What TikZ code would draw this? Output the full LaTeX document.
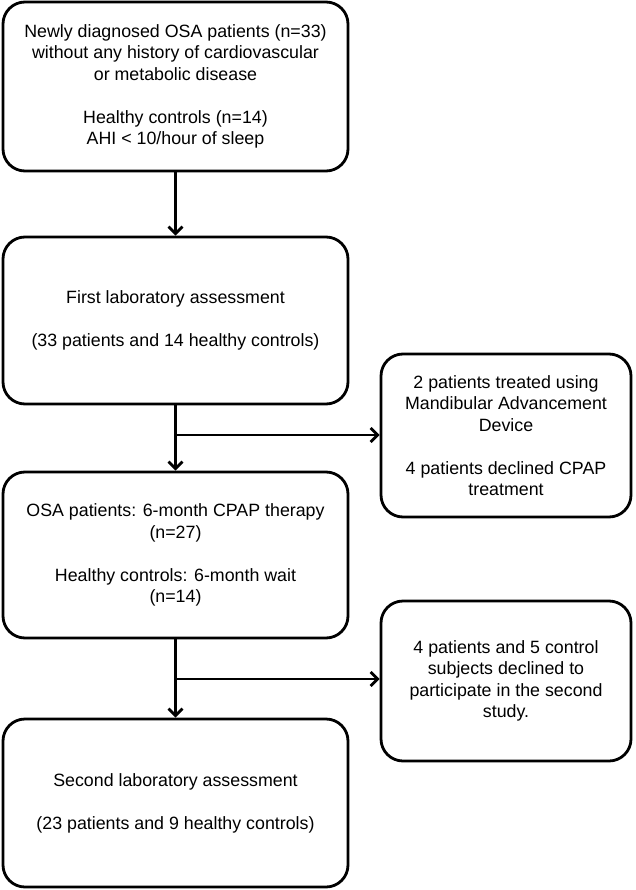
\documentclass[tikz,border=0pt]{standalone}
\usepackage{fontspec}
\setmainfont{Liberation Sans}
\usetikzlibrary{arrows.meta}
\tikzset{
  box/.style={draw, line width=2.8pt, rounded corners=22pt, align=center,
    inner sep=0pt, font=\fontsize{17.8}{21.5}\selectfont},
  mainbox/.style={box, minimum width=345pt},
  sidebox/.style={box, minimum width=250pt},
  flow/.style={line width=2.8pt, -{Straight Barb[length=7pt,width=14pt]}}
}
\begin{document}
\begin{tikzpicture}[x=1pt,y=-1pt]
      \useasboundingbox (0,0) rectangle (636,890);
      \node[mainbox, minimum height=169pt] (intake) at (175.5,86.5)
        {Newly diagnosed OSA patients (n=33)\\without any history of cardiovascular\\or metabolic disease\\[21.5pt]Healthy controls (n=14)\\AHI < 10/hour of sleep};
      \node[mainbox, minimum height=167pt] (first) at (175.5,320.5)
        {First laboratory assessment\\[21.5pt](33 patients and 14 healthy controls)};
      \node[sidebox, minimum height=163pt] (excluded) at (506,435.5)
        {2 patients treated using\\Mandibular Advancement\\Device\\[21.5pt]4 patients declined CPAP\\treatment};
      \node[mainbox, minimum height=166pt] (therapy) at (175.5,555)
        {OSA patients: 6-month CPAP therapy\\(n=27)\\[21.5pt]Healthy controls: 6-month wait\\(n=14)};
      \node[sidebox, minimum height=160pt] (declined) at (506,681)
        {4 patients and 5 control\\subjects declined to\\participate in the second\\study.};
      \node[mainbox, minimum height=168pt] (second) at (175.5,803)
        {Second laboratory assessment\\[21.5pt](23 patients and 9 healthy controls)};
      \coordinate (split1) at (175.5,435);
      \coordinate (split2) at (175.5,679);
      \begin{scope}[flow]
        \draw (intake) to (first);
        \draw (first) to (therapy);
        \draw (split1) to (split1 -| excluded.west);
        \draw (therapy) to (second);
        \draw (split2) to (split2 -| declined.west);
      \end{scope}
    \end{tikzpicture}
\end{document}
